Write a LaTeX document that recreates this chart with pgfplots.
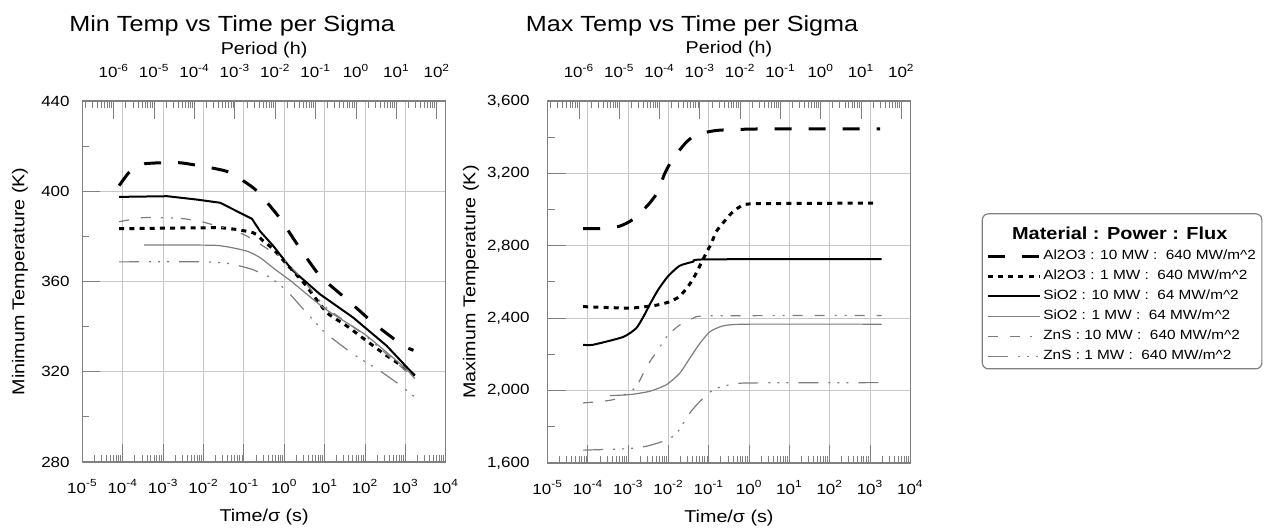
\documentclass[border=0pt]{standalone}
\usepackage{pgfplots}
\pgfplotsset{compat=1.18}
\usepackage{fontspec}
\setmainfont{Liberation Sans}[FakeStretch=1.15]

\definecolor{axgray}{RGB}{128,128,128}
\definecolor{gridgray}{RGB}{200,200,200}
\definecolor{lgray}{RGB}{125,125,125}

\newcommand\dec[1]{10\textsuperscript{#1}}

\tikzset{
  s1/.style={black, line width=1.5bp, dash pattern=on 8.5bp off 8.5bp},
  s2/.style={black, line width=1.5bp, dash pattern=on 2.5bp off 2.6bp},
  s3/.style={black, line width=1bp},
  s4/.style={lgray, line width=0.6bp},
  s5/.style={lgray, line width=0.6bp, dash pattern=on 5bp off 6bp on 5bp off 5bp on 1bp off 4bp on 1bp off 4bp},
  s6/.style={lgray, line width=0.6bp, dash pattern=on 10bp off 5bp on 1bp off 3.5bp on 1bp off 3.5bp on 1bp off 5bp},
}

\begin{document}
\begin{tikzpicture}
\path[use as bounding box] (0,0) rectangle (632.5bp,265.5bp);

% ---------------- left: minimum temperature ----------------
\begin{axis}[
  at={(41.2bp,34.5bp)}, anchor=south west,
  scale only axis, width=181.7bp, height=180.5bp,
  xmode=log, xmin=1e-5, xmax=1e4,
  ymin=280, ymax=440,
  xtick={1e-5,1e-4,1e-3,1e-2,1e-1,1,1e1,1e2,1e3,1e4},
  xticklabels={\dec{-5},\dec{-4},\dec{-3},\dec{-2},\dec{-1},\dec{0},\dec{1},\dec{2},\dec{3},\dec{4}},
  minor xtick={2e-5,3e-5,4e-5,5e-5,6e-5,7e-5,8e-5,9e-5,
    2e-4,3e-4,4e-4,5e-4,6e-4,7e-4,8e-4,9e-4,
    2e-3,3e-3,4e-3,5e-3,6e-3,7e-3,8e-3,9e-3,
    0.02,0.03,0.04,0.05,0.06,0.07,0.08,0.09,
    0.2,0.3,0.4,0.5,0.6,0.7,0.8,0.9,
    2,3,4,5,6,7,8,9,
    20,30,40,50,60,70,80,90,
    200,300,400,500,600,700,800,900,
    2000,3000,4000,5000,6000,7000,8000,9000},
  ytick={280,320,360,400,440},
  minor ytick={300,340,380,420},
  xtick pos=left, ytick pos=left,
  xmajorgrids, ymajorgrids,
  major grid style={gridgray, line width=0.5bp},
  axis line style={axgray, line width=0.6bp},
  tick style={axgray, line width=0.5bp},
  tick align=inside,
  major tick length=9bp, minor tick length=3.5bp,
  tick label style={font=\fontsize{7.4}{8}\selectfont, inner sep=0pt},
  xticklabel style={anchor=base, yshift=-15.5bp},
  yticklabel style={anchor=east, xshift=-6.2bp},
  /pgf/number format/assume math mode=true,
  /pgf/number format/1000 sep={,},
  label style={font=\fontsize{8.6}{10}\selectfont},
  xlabel={Time/σ (s)},
  xlabel style={at={(0.5,-0.165)}, anchor=base},
  ylabel={Minimum Temperature (K)},
  ylabel style={at={(-0.172,0.5)}, anchor=center},
]
\addplot[s1, smooth, tension=0.3] coordinates {(8.13e-5,402.5) (1.51e-4,408.8) (3.55e-4,412.2)
  (2.69e-3,412.6) (3.80e-2,408.8) (0.191,400.8) (0.708,389) (2.24,375.7) (7.59,362.5)
  (34.7,352.2) (174,341.1) (871,331.6) (1585,329.5)};
\addplot[s2, smooth, tension=0.3] coordinates {(8.13e-5,383.4) (2.57e-2,383.8) (0.170,381.6)
  (0.302,377.9) (0.537,374.3) (1.26,366.9) (3.24,358.8) (11.2,346.3) (34.7,340.4)
  (107,333.8) (339,327.2) (1047,321.3) (1698,318.3)};
\addplot[s3] coordinates {(8.13e-5,397.5) (1.26e-3,397.8) (6.92e-3,396.3) (2.57e-2,394.9)
  (0.158,387.8) (0.251,382.3) (0.537,375.7) (1.51,365.4) (7.59,354.4) (50.1,344.1)
  (339,331.6) (1698,318.3)};
\addplot[s4, smooth, tension=0.3] coordinates {(3.39e-4,376.2) (2.14e-2,376) (0.117,373.5)
  (0.251,370.6) (0.589,365.4) (1.51,360) (10,348) (100,336.5) (1000,321.5) (1698,317)};
\addplot[s5, smooth, tension=0.3] coordinates {(8.13e-5,386.5) (3.24e-4,388.3) (2.63e-3,388)
  (1e-2,386.3) (9.77e-2,380.9) (0.537,372.8) (0.871,370.6) (3.16,360) (10,349)
  (100,336) (1000,320.5) (1698,316.9)};
\addplot[s6, smooth, tension=0.3] coordinates {(8.13e-5,368.7) (1e-2,368.7) (4.57e-2,367.9)
  (0.158,365.4) (0.447,361.8) (1.15,355.9) (2.95,347.8) (10,337.5) (50.1,327.9)
  (229,320.5) (724,314.2) (1698,308.8)};
\end{axis}

% top period axis, left
\begin{axis}[
  at={(41.2bp,34.5bp)}, anchor=south west,
  scale only axis, width=181.7bp, height=180.5bp,
  xmode=log, xmin=1.67e-7, xmax=167, ymin=0, ymax=1,
  axis x line*=top, axis y line=none,
  axis line style={axgray, line width=0.6bp, -},
  tick style={axgray, line width=0.5bp},
  xtick={1e-6,1e-5,1e-4,1e-3,1e-2,1e-1,1,1e1,1e2},
  xticklabels={\dec{-6},\dec{-5},\dec{-4},\dec{-3},\dec{-2},\dec{-1},\dec{0},\dec{1},\dec{2}},
  minor xtick={2e-7,3e-7,4e-7,5e-7,6e-7,7e-7,8e-7,9e-7,
    2e-6,3e-6,4e-6,5e-6,6e-6,7e-6,8e-6,9e-6,
    2e-5,3e-5,4e-5,5e-5,6e-5,7e-5,8e-5,9e-5,
    2e-4,3e-4,4e-4,5e-4,6e-4,7e-4,8e-4,9e-4,
    2e-3,3e-3,4e-3,5e-3,6e-3,7e-3,8e-3,9e-3,
    0.02,0.03,0.04,0.05,0.06,0.07,0.08,0.09,
    0.2,0.3,0.4,0.5,0.6,0.7,0.8,0.9,
    2,3,4,5,6,7,8,9,
    20,30,40,50,60,70,80,90},
  tick align=inside,
  major tick length=9bp, minor tick length=3.5bp,
  tick label style={font=\fontsize{7.4}{8}\selectfont, inner sep=0pt},
  xticklabel style={anchor=base, yshift=11.5bp},
  label style={font=\fontsize{8.6}{10}\selectfont},
  xlabel={Period (h)},
  xlabel style={at={(0.5,1.130)}, anchor=base},
  title={Min Temp vs Time per Sigma},
  title style={font=\fontsize{11}{12}\selectfont, at={(0.412,1.160)}, anchor=base},
]
\end{axis}

% ---------------- right: maximum temperature ----------------
\begin{axis}[
  at={(273.85bp,34bp)}, anchor=south west,
  scale only axis, width=181.3bp, height=181bp,
  xmode=log, xmin=1e-5, xmax=1e4,
  ymin=1600, ymax=3600,
  xtick={1e-5,1e-4,1e-3,1e-2,1e-1,1,1e1,1e2,1e3,1e4},
  xticklabels={\dec{-5},\dec{-4},\dec{-3},\dec{-2},\dec{-1},\dec{0},\dec{1},\dec{2},\dec{3},\dec{4}},
  minor xtick={2e-5,3e-5,4e-5,5e-5,6e-5,7e-5,8e-5,9e-5,
    2e-4,3e-4,4e-4,5e-4,6e-4,7e-4,8e-4,9e-4,
    2e-3,3e-3,4e-3,5e-3,6e-3,7e-3,8e-3,9e-3,
    0.02,0.03,0.04,0.05,0.06,0.07,0.08,0.09,
    0.2,0.3,0.4,0.5,0.6,0.7,0.8,0.9,
    2,3,4,5,6,7,8,9,
    20,30,40,50,60,70,80,90,
    200,300,400,500,600,700,800,900,
    2000,3000,4000,5000,6000,7000,8000,9000},
  ytick={1600,2000,2400,2800,3200,3600},
  minor ytick={1800,2200,2600,3000,3400},
  xtick pos=left, ytick pos=left,
  xmajorgrids, ymajorgrids,
  major grid style={gridgray, line width=0.5bp},
  axis line style={axgray, line width=0.6bp},
  tick style={axgray, line width=0.5bp},
  tick align=inside,
  major tick length=9bp, minor tick length=3.5bp,
  tick label style={font=\fontsize{7.4}{8}\selectfont, inner sep=0pt},
  xticklabel style={anchor=base, yshift=-15.5bp},
  yticklabel style={anchor=east, xshift=-8.9bp},
  /pgf/number format/assume math mode=true,
  /pgf/number format/1000 sep={,},
  label style={font=\fontsize{8.6}{10}\selectfont},
  xlabel={Time/σ (s)},
  xlabel style={at={(0.5,-0.165)}, anchor=base},
  ylabel={Maximum Temperature (K)},
  ylabel style={at={(-0.2115,0.5)}, anchor=center},
  legend style={at={(1.197,0.690)}, anchor=north west, draw=axgray, line width=0.6bp,
    rounded corners=3bp, fill=white,
    font=\fontsize{6.7}{7.2}\selectfont,
    nodes={inner sep=1bp, text height=5.1bp, text depth=1.5bp},
    row sep=1.4bp, inner xsep=2bp, inner ysep=2bp},
  legend cell align=left,
  legend image code/.code={\draw[#1] (0bp,0bp) -- (26bp,0bp);},
]
\addlegendimage{empty legend}
\addlegendentry[text height=10bp]{\hspace*{-15.6bp}\fontsize{8.7}{9}\selectfont\bfseries Material : Power : Flux}
\addplot[s1, smooth, tension=0.35] coordinates {(7.59e-5,2895) (1.95e-4,2895) (6.03e-4,2908)
  (1.29e-3,2945) (3.02e-3,3023) (5.37e-3,3096) (7.94e-3,3197) (1.26e-2,3279)
  (2.69e-2,3370) (4.79e-2,3412) (0.166,3438) (2.51,3446) (1778,3446)};
\addlegendentry{Al2O3 : 10 MW :\ \ 640 MW/m\textasciicircum 2}
\addplot[s2, smooth, tension=0.35] coordinates {(7.59e-5,2464) (1.10e-3,2456) (5.01e-3,2472)
  (1.07e-2,2491) (1.86e-2,2520) (3.02e-2,2574) (4.37e-2,2630) (8.51e-2,2758)
  (0.115,2813) (0.151,2877) (0.219,2923) (0.355,2978) (0.575,3014) (1.23,3032)
  (1585,3036)};
\addlegendentry{Al2O3 : 1 MW :\ \ 640 MW/m\textasciicircum 2}
\addplot[s3, smooth, tension=0.35] coordinates {(7.59e-5,2253) (1.32e-4,2253) (7.41e-4,2296)
  (1.58e-3,2345) (2.51e-3,2418) (3.72e-3,2491) (5.62e-3,2560) (9.55e-3,2630)
  (1.86e-2,2689) (4.07e-2,2712) (8.51e-2,2725) (1950,2727)};
\addlegendentry{SiO2 : 10 MW :\ \ 64 MW/m\textasciicircum 2}
\addplot[s4, smooth, tension=0.35] coordinates {(3.47e-4,1972) (1.10e-3,1978) (3.39e-3,1996)
  (8.91e-3,2033) (1.91e-2,2097) (3.39e-2,2180) (6.03e-2,2262) (0.107,2326)
  (0.229,2358) (0.871,2367) (1950,2367)};
\addlegendentry{SiO2 : 1 MW :\ \ 64 MW/m\textasciicircum 2}
\addplot[s5, smooth, tension=0.35] coordinates {(7.59e-5,1932) (4.27e-4,1950) (1.48e-3,2015)
  (2.88e-3,2134) (5.5e-3,2226) (9.77e-3,2308) (1.91e-2,2363) (4.07e-2,2400)
  (0.107,2413) (1950,2415)};
\addlegendentry{ZnS : 10 MW :\ \ 640 MW/m\textasciicircum 2}
\addplot[s6, smooth, tension=0.35] coordinates {(7.59e-5,1671) (9.12e-4,1679) (2.88e-3,1693)
  (9.77e-3,1730) (1.74e-2,1776) (3.39e-2,1877) (6.03e-2,1941) (0.129,2005)
  (0.275,2028) (0.851,2042) (1950,2044)};
\addlegendentry{ZnS : 1 MW :\ \ 640 MW/m\textasciicircum 2}
\end{axis}

% top period axis, right
\begin{axis}[
  at={(273.85bp,34bp)}, anchor=south west,
  scale only axis, width=181.3bp, height=181bp,
  xmode=log, xmin=1.67e-7, xmax=167, ymin=0, ymax=1,
  axis x line*=top, axis y line=none,
  axis line style={axgray, line width=0.6bp, -},
  tick style={axgray, line width=0.5bp},
  xtick={1e-6,1e-5,1e-4,1e-3,1e-2,1e-1,1,1e1,1e2},
  xticklabels={\dec{-6},\dec{-5},\dec{-4},\dec{-3},\dec{-2},\dec{-1},\dec{0},\dec{1},\dec{2}},
  minor xtick={2e-7,3e-7,4e-7,5e-7,6e-7,7e-7,8e-7,9e-7,
    2e-6,3e-6,4e-6,5e-6,6e-6,7e-6,8e-6,9e-6,
    2e-5,3e-5,4e-5,5e-5,6e-5,7e-5,8e-5,9e-5,
    2e-4,3e-4,4e-4,5e-4,6e-4,7e-4,8e-4,9e-4,
    2e-3,3e-3,4e-3,5e-3,6e-3,7e-3,8e-3,9e-3,
    0.02,0.03,0.04,0.05,0.06,0.07,0.08,0.09,
    0.2,0.3,0.4,0.5,0.6,0.7,0.8,0.9,
    2,3,4,5,6,7,8,9,
    20,30,40,50,60,70,80,90},
  tick align=inside,
  major tick length=9bp, minor tick length=3.5bp,
  tick label style={font=\fontsize{7.4}{8}\selectfont, inner sep=0pt},
  xticklabel style={anchor=base, yshift=11.5bp},
  label style={font=\fontsize{8.6}{10}\selectfont},
  xlabel={Period (h)},
  xlabel style={at={(0.5,1.130)}, anchor=base},
  title={Max Temp vs Time per Sigma},
  title style={font=\fontsize{11}{12}\selectfont, at={(0.398,1.160)}, anchor=base},
]
\end{axis}
\end{tikzpicture}
\end{document}
